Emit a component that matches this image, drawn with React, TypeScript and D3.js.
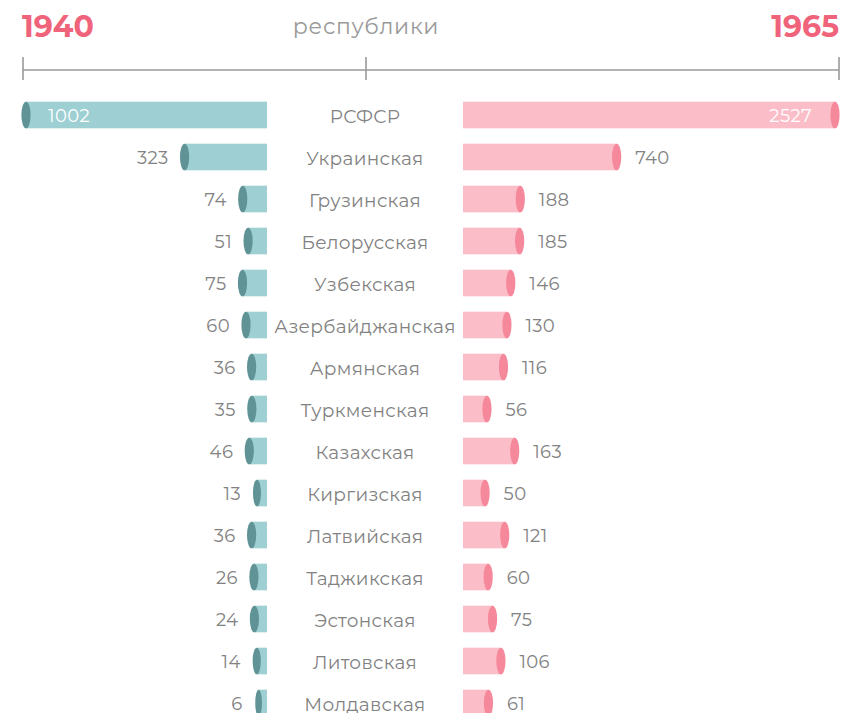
import React from "react";
import * as d3 from "d3";

const categories = [
  "РСФСР", "Украинская", "Грузинская", "Белорусская", "Узбекская",
  "Азербайджанская", "Армянская", "Туркменская", "Казахская", "Киргизская",
  "Латвийская", "Таджикская", "Эстонская", "Литовская", "Молдавская",
];
const values1940 = [1002, 323, 74, 51, 75, 60, 36, 35, 46, 13, 36, 26, 24, 14, 6];
const values1965 = [2527, 740, 188, 185, 146, 130, 116, 56, 163, 50, 121, 60, 75, 106, 61];
const yearLeft = "1940";
const yearRight = "1965";
const centerTitle = "республики";

const W = 843;
const H = 713;
const FONT = "Montserrat, 'Open Sans', sans-serif";

export default function App() {
  const leftBase = 267;
  const rightBase = 463;
  const xLeft = d3.scaleLinear().domain([0, d3.max(values1940)!]).range([7, 241]);
  const xRight = d3.scalePow().exponent(0.72).domain([0, d3.max(values1965)!]).range([0, 372]);
  const y = d3.scaleBand<string>().domain(categories).range([94, 94 + 42 * categories.length]).paddingInner(0.366).paddingOuter(0.183);
  const bh = y.bandwidth();
  const ry = bh / 2;
  const midX = (leftBase + rightBase) / 2;

  const axisY = 70;
  const axisColor = "#9a9a9a";
  const ticksX = [23, midX + 1, 839];
  const textColor = "#828282";

  return (
    <svg width={W} height={H} style={{ position: "absolute", left: 0, top: 0, display: "block" }} fontFamily={FONT}>
      <rect width={W} height={H} fill="#fff" />
      <text x={22} y={36.5} fontSize={30} fontWeight={700} fill="#f0647b">{yearLeft}</text>
      <text x={839} y={36.5} fontSize={30} fontWeight={700} fill="#f0647b" textAnchor="end">{yearRight}</text>
      <text x={midX + 1} y={33.5} fontSize={22} fill="#9a9a9a" textAnchor="middle" letterSpacing={0.7}>{centerTitle}</text>
      <line x1={23} x2={839} y1={axisY} y2={axisY} stroke={axisColor} strokeWidth={1.6} />
      {ticksX.map((tx, i) => (
        <line key={i} x1={tx} x2={tx} y1={57} y2={80} stroke={axisColor} strokeWidth={1.6} />
      ))}
      {categories.map((c, i) => {
        const top = y(c)!;
        const cy = top + ry;
        const v1 = values1940[i];
        const v2 = values1965[i];
        const w1 = xLeft(v1);
        const w2 = xRight(v2);
        const lx = leftBase - w1;
        const rx = rightBase + w2;
        const erL = Math.min(4.6, Math.max(2.5, w1 * 0.4));
        const erR = Math.min(4.6, Math.max(2.5, w2 * 0.4));
        const inside1 = i === 0;
        const inside2 = i === 0;
        return (
          <g key={c}>
            <rect x={lx} y={top} width={w1} height={bh} fill="#9dcfd3" />
            <ellipse cx={lx} cy={cy} rx={erL} ry={ry} fill="#5f9396" />
            <rect x={rightBase} y={top} width={w2} height={bh} fill="#fbbdc8" />
            <ellipse cx={rx} cy={cy} rx={erR} ry={ry} fill="#f5889a" />
            <text x={midX} y={cy + 7.5} fontSize={18.5} fill={textColor} textAnchor="middle" letterSpacing={0.3}>{c}</text>
            {inside1 ? (
              <text x={lx + 22} y={cy + 7} fontSize={18} fill="#fff" letterSpacing={0.4}>{v1}</text>
            ) : (
              <text x={lx - 16} y={cy + 7} fontSize={18} fill={textColor} textAnchor="end" letterSpacing={0.4}>{v1}</text>
            )}
            {inside2 ? (
              <text x={rx - 23} y={cy + 7} fontSize={18} fill="#fff" textAnchor="end" letterSpacing={0.4}>{v2}</text>
            ) : (
              <text x={rx + 18.5} y={cy + 7} fontSize={18} fill={textColor} letterSpacing={0.4}>{v2}</text>
            )}
          </g>
        );
      })}
    </svg>
  );
}
